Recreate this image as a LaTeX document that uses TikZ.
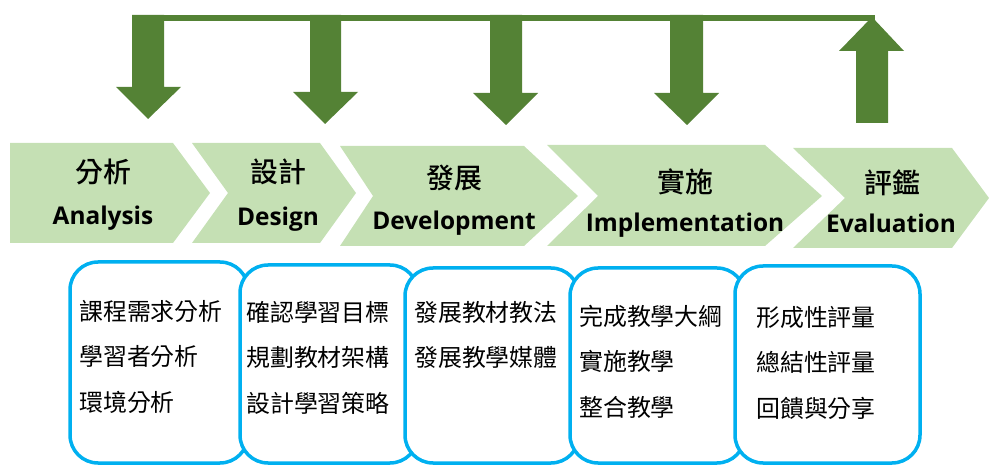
\documentclass[tikz,border=0pt]{standalone}
\usepackage{fontspec}
\newfontfamily\cjk{Noto Sans CJK TC}
\newfontfamily\cjkm{Noto Sans CJK TC}[UprightFont={* Medium}]
\newfontfamily\latb{Open Sans}
\definecolor{agreen}{HTML}{548235}
\definecolor{cgreen}{HTML}{C5E0B4}
\definecolor{cblue}{HTML}{00B0F0}
\begin{document}
\begin{tikzpicture}[x=1bp,y=-1bp,
  arrowfill/.style={fill=agreen,draw=none},
  chev/.style={fill=cgreen,draw=none},
  box/.style={draw=cblue,line width=3.5bp,fill=white,rounded corners=28bp},
  ttl/.style={font=\cjkm\fontsize{28}{28}\selectfont,inner sep=0pt,anchor=center},
  eng/.style={font=\latb\bfseries\fontsize{24.5}{24.5}\selectfont,anchor=base,inner sep=0pt},
  body/.style={font=\cjk\fontsize{24}{24}\selectfont,anchor=base west,inner sep=0pt}]
\useasboundingbox (0,0) rectangle (989,466);
% feedback bar and arrows
\fill[arrowfill] (132,15) rectangle (875,21);
\fill[arrowfill] (132,15) -- (164,15) -- (164,87) -- (181,87) -- (148,119) -- (116,87) -- (132,87) -- cycle;
\fill[arrowfill] (310,15) -- (341,15) -- (341,92) -- (358,92) -- (325,124) -- (293,92) -- (310,92) -- cycle;
\fill[arrowfill] (490,15) -- (522,15) -- (522,93) -- (538,93) -- (506,125) -- (473,93) -- (490,93) -- cycle;
\fill[arrowfill] (670,15) -- (703,15) -- (703,93) -- (719,93) -- (687,125) -- (654,93) -- (670,93) -- cycle;
\fill[arrowfill] (856,123) -- (888,123) -- (888,51) -- (904,51) -- (872,17) -- (839,51) -- (856,51) -- cycle;
% chevrons
\fill[chev] (10,143) -- (173,143) -- (210,193) -- (173,243) -- (10,243) -- cycle;
\fill[chev] (192,143) -- (320,143) -- (356,193) -- (320,243) -- (192,243) -- (228,193) -- cycle;
\fill[chev] (340,146) -- (524,146) -- (578,196) -- (524,246) -- (340,246) -- (373,196) -- cycle;
\fill[chev] (547,145) -- (765,145) -- (822,196) -- (765,246) -- (547,246) -- (598,196) -- cycle;
\fill[chev] (793,148) -- (952,148) -- (989,198) -- (952,248) -- (793,248) -- (845,198) -- cycle;
% chevron labels
\node[ttl] (t1) at (103,172) {分析};
\node[eng] (e1) at (103,225) {Analysis};
\node[ttl] (t2) at (278,172) {設計};
\node[eng] (e2) at (278,226) {Design};
\node[ttl] (t3) at (454,178) {發展};
\node[eng] (e3) at (454,230) {Development};
\node[ttl] (t4) at (685,182) {實施};
\node[eng] (e4) at (685,232) {Implementation};
\node[ttl] (t5) at (892,183) {評鑑};
\node[eng] (e5) at (891,233) {Evaluation};
% boxes
\draw[box] (70,262) rectangle (248,463);
\draw[box] (240,265) rectangle (418,463);
\draw[box] (405,268) rectangle (579,463);
\draw[box] (570,268) rectangle (745,463);
\draw[box] (735,266) rectangle (920,463);
% box texts
\node[body] (b11) at (79,321) {課程需求分析};
\node[body] (b12) at (79,366) {學習者分析};
\node[body] (b13) at (79,411) {環境分析};
\node[body] (b21) at (246,322) {確認學習目標};
\node[body] (b22) at (246,367) {規劃教材架構};
\node[body] (b23) at (246,412) {設計學習策略};
\node[body] (b31) at (414,322) {發展教材教法};
\node[body] (b32) at (414,367) {發展教學媒體};
\node[body] (b41) at (579,326) {完成教學大綱};
\node[body] (b42) at (579,371) {實施教學};
\node[body] (b43) at (579,416) {整合教學};
\node[body] (b51) at (756,327) {形成性評量};
\node[body] (b52) at (756,372) {總結性評量};
\node[body] (b53) at (756,417) {回饋與分享};
\end{tikzpicture}
\end{document}
